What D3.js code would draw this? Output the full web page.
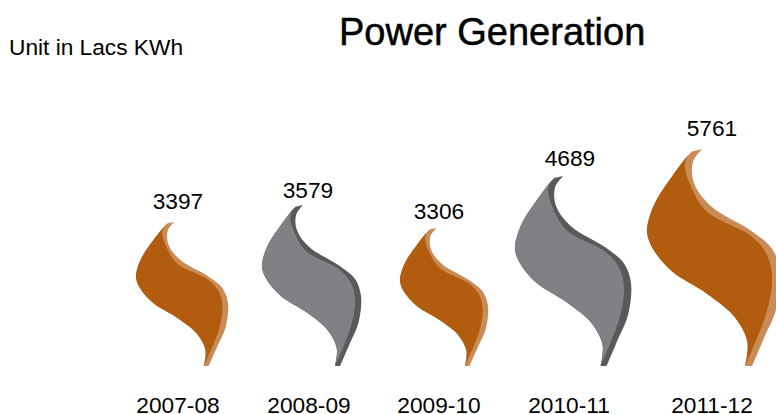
<!DOCTYPE html>
<html><head><meta charset="utf-8">
<script src="https://cdn.jsdelivr.net/npm/d3@7/dist/d3.min.js"></script>
<style>html,body{margin:0;padding:0;background:#fff}svg{display:block}text{font-family:"Liberation Sans",Arial,sans-serif;fill:#000}</style>
</head><body><svg id="c" width="776" height="414"></svg>
<script>
const categories = ["2007-08","2008-09","2009-10","2010-11","2011-12"];
const values = [3397,3579,3306,4689,5761];
const chartTitle = "Power Generation";
const unitNote = "Unit in Lacs KWh";

const baseline = 366;
const sorted = values.slice().sort(d3.ascending);
const heightScale = d3.scaleLinear().domain(sorted).range([138,144,161,190,217]);
const widthScale = d3.scaleLinear().domain(sorted).range([88,92,99,116,133]);
const leftScale = d3.scaleOrdinal().domain(categories).range([136,262,400,515,647]);
const labelX = d3.scaleOrdinal().domain(categories).range([178,308,439,570,712]);
const catX = d3.scaleOrdinal().domain(categories).range([178,309,439,569,712]);
const labelGap = d3.scaleOrdinal().domain(categories).range([13,7,9,10,13]);
const fills = d3.scaleOrdinal().domain(categories).range(["#b15c0f","#808184","#b15c0f","#808184","#b15c0f"]);
const strips = d3.scaleOrdinal().domain(categories).range(["#c98c57","#58595b","#c98c57","#58595b","#c98c57"]);

// flame silhouette, normalised to its bounding box
const outerLeft = [[.338,.011],[.30,.035],[.19,.125],[.08,.225],[.02,.31],[0,.385],[.044,.46],[.19,.565],[.445,.665],[.66,.775],[.755,.89],[.737,1]];
const outerRight = [[.415,0],[.345,.06],[.354,.158],[.48,.263],[.79,.38],[.94,.46],[1,.565],[.975,.73],[.88,.87],[.79,1]];
const innerEdge = [[.30,.035],[.285,.08],[.32,.158],[.445,.286],[.78,.40],[.90,.485],[.94,.59],[.90,.75],[.737,1]];

function flamePaths(w,h){
  const line = d3.line().x(d=>d[0]*w).y(d=>d[1]*h).curve(d3.curveCatmullRom.alpha(0.5));
  const seg = pts => line(pts).replace(/^M/,"L");
  const full = line(outerRight) + seg([[.79,1],[.737,1]]) + seg(outerLeft.slice().reverse()) + "Z";
  const main = line(outerLeft.slice(1)) + seg(innerEdge.slice().reverse()) + "Z";
  return {full, main};
}

const svg = d3.select("#c");
svg.append("text").attr("x",339).attr("y",45).attr("font-size",38)
  .attr("stroke","#000").attr("stroke-width",0.5).text(chartTitle);
svg.append("text").attr("x",9).attr("y",55).attr("font-size",22.7).text(unitNote);

const g = svg.selectAll("g.f").data(categories.map((c,i)=>({c,v:values[i]}))).join("g").attr("class","f");
g.each(function(d){
  const h = heightScale(d.v), w = widthScale(d.v), s = d3.select(this);
  const p = flamePaths(w,h);
  const t = s.append("g").attr("transform",`translate(${leftScale(d.c)},${baseline-h})`);
  t.append("path").attr("d",p.full).attr("fill",strips(d.c));
  t.append("path").attr("d",p.main).attr("fill",fills(d.c));
  s.append("text").attr("x",labelX(d.c)).attr("y",baseline-h-labelGap(d.c)).attr("text-anchor","middle").attr("font-size",22.7).text(d.v);
  s.append("text").attr("x",catX(d.c)).attr("y",413).attr("text-anchor","middle").attr("font-size",22.7).text(d.c);
});
</script></body></html>
